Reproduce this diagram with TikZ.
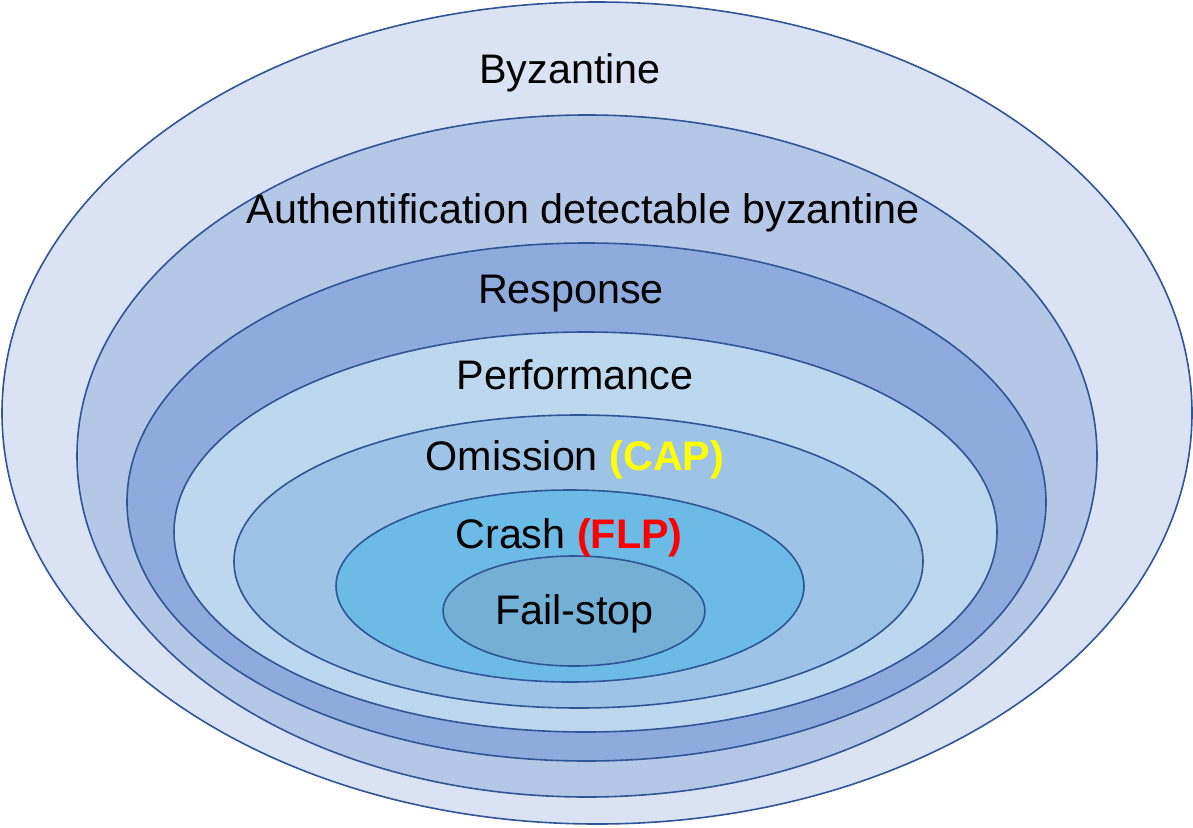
\documentclass[tikz,border=0pt]{standalone}
\usepackage{fontspec}
\setmainfont{Liberation Sans}
\definecolor{byz}{HTML}{DAE3F3}
\definecolor{auth}{HTML}{B4C7E7}
\definecolor{resp}{HTML}{8FAADC}
\definecolor{perf}{HTML}{BDD7EE}
\definecolor{omis}{HTML}{9DC3E6}
\definecolor{crash}{HTML}{6CBBE7}
\definecolor{fstop}{HTML}{74AFD5}
\definecolor{edge}{HTML}{2F5597}
\definecolor{capy}{HTML}{FFFF00}
\definecolor{flpr}{HTML}{FF0000}
\begin{document}
\begin{tikzpicture}[x=1pt,y=-1pt,
  ring/.style={draw=edge,line width=1.6pt},
  lab/.style={anchor=base,inner sep=0pt,font=\fontsize{41.3}{48}\selectfont}]
\useasboundingbox (0,0) rectangle (1193,827);
\filldraw[ring,fill=byz]   (597,413)   ellipse [x radius=595,  y radius=411];
\filldraw[ring,fill=auth]  (587,456)   ellipse [x radius=510,  y radius=341];
\filldraw[ring,fill=resp]  (586.5,502) ellipse [x radius=459.5,y radius=259];
\filldraw[ring,fill=perf]  (585.5,532) ellipse [x radius=411.5,y radius=200];
\filldraw[ring,fill=omis]  (578.5,561.5) ellipse [x radius=344.5,y radius=146.5];
\filldraw[ring,fill=crash] (570,586)   ellipse [x radius=234,  y radius=96];
\filldraw[ring,fill=fstop] (574,611)   ellipse [x radius=131,  y radius=55];
\node[lab] (tbyz)  at (570,83)  {Byzantine};
\node[lab] (tauth) at (583,223) {Authentification detectable byzantine};
\node[lab] (tresp) at (571,303) {Response};
\node[lab] (tperf) at (575,389) {Performance};
\node[lab] (tomis) at (575,470) {Omission \textcolor{capy}{\bfseries(CAP)}};
\node[lab] (tcrash) at (569,548) {Crash \textcolor{flpr}{\bfseries(FLP)}};
\node[lab] (tfs)   at (574.5,624) {Fail-stop};
\end{tikzpicture}
\end{document}
